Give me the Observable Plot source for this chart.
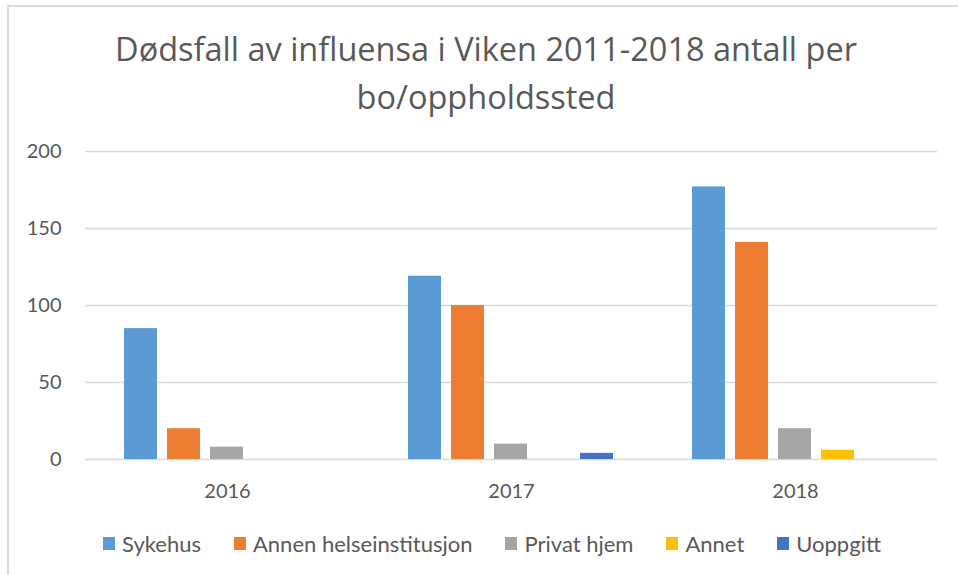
<!DOCTYPE html>
<html>
<head>
<meta charset="utf-8">
<script src="https://cdn.jsdelivr.net/npm/d3@7"></script>
<script src="https://cdn.jsdelivr.net/npm/@observablehq/plot@0.6"></script>
<style>
  html, body { margin: 0; padding: 0; background: #fff; }
  #wrap { position: relative; width: 958px; height: 575px; overflow: hidden; font-family: Lato, "Open Sans", sans-serif; }
  #frame { position: absolute; left: 7px; top: 5px; width: 1000px; height: 600px; border-left: 2px solid #dcdcdc; border-top: 2px solid #dcdcdc; }
  #title { position: absolute; left: 0; top: 25px; width: 972px; text-align: center; font-family: "Open Sans", Lato, sans-serif; font-size: 32.5px; line-height: 48px; color: #595959; }
  #chart { position: absolute; left: 0; top: 128px; }
  #legend { position: absolute; left: 0; top: 530px; width: 984px; display: flex; justify-content: center; gap: 33px; font-size: 22px; color: #595959; }
  .item { display: flex; align-items: center; }
  .sw { width: 12px; height: 13px; margin-right: 7px; }
</style>
</head>
<body>
<div id="wrap">
  <div id="frame"></div>
  <div id="title">Dødsfall av influensa i Viken 2011-2018 antall per<br>bo/oppholdssted</div>
  <div id="chart"></div>
  <div id="legend"></div>
</div>
<script>
const years = ["2016", "2017", "2018"];
const series = ["Sykehus", "Annen helseinstitusjon", "Privat hjem", "Annet", "Uoppgitt"];
const colors = ["#5B9BD5", "#ED7D31", "#A5A5A5", "#FFC000", "#4472C4"];
const sykehus = [85, 119, 177];
const annenHelseinstitusjon = [20, 100, 141];
const privatHjem = [8, 10, 20];
const annet = [0, 0, 6];
const uoppgitt = [0, 4, 0];
const yTicks = [0, 50, 100, 150, 200];

const valuesBySeries = [sykehus, annenHelseinstitusjon, privatHjem, annet, uoppgitt];
const data = [];
years.forEach((yr, i) => {
  series.forEach((s, j) => {
    const v = valuesBySeries[j][i];
    if (v > 0) data.push({year: yr, series: s, value: v});
  });
});

const chart = Plot.plot({
  width: 958,
  height: 376,
  marginLeft: 84,
  marginRight: 20,
  marginTop: 23,
  marginBottom: 45,
  style: {fontFamily: "Lato, 'Open Sans', sans-serif", fontSize: "20px", color: "#595959", background: "transparent"},
  fx: {domain: years, padding: 0, label: null},
  x: {domain: series, paddingInner: 0.227, paddingOuter: 0.85, axis: null},
  y: {domain: [0, 200], label: null},
  color: {domain: series, range: colors},
  marks: [
    Plot.gridY(yTicks, {stroke: "#d9d9d9", strokeOpacity: 1, strokeWidth: 1.5}),
    Plot.axisY(yTicks, {tickSize: 0, tickPadding: 24, label: null, fontSize: 20}),
    Plot.axisFx({anchor: "bottom", tickSize: 0, tickPadding: 24, label: null, fontSize: 20}),
    Plot.barY(data, {fx: "year", x: "series", y: "value", fill: "series"})
  ]
});
document.getElementById("chart").appendChild(chart);

const legend = d3.select("#legend");
series.forEach((s, j) => {
  const it = legend.append("div").attr("class", "item");
  it.append("div").attr("class", "sw").style("background", colors[j]);
  it.append("span").text(s);
});
</script>
</body>
</html>
